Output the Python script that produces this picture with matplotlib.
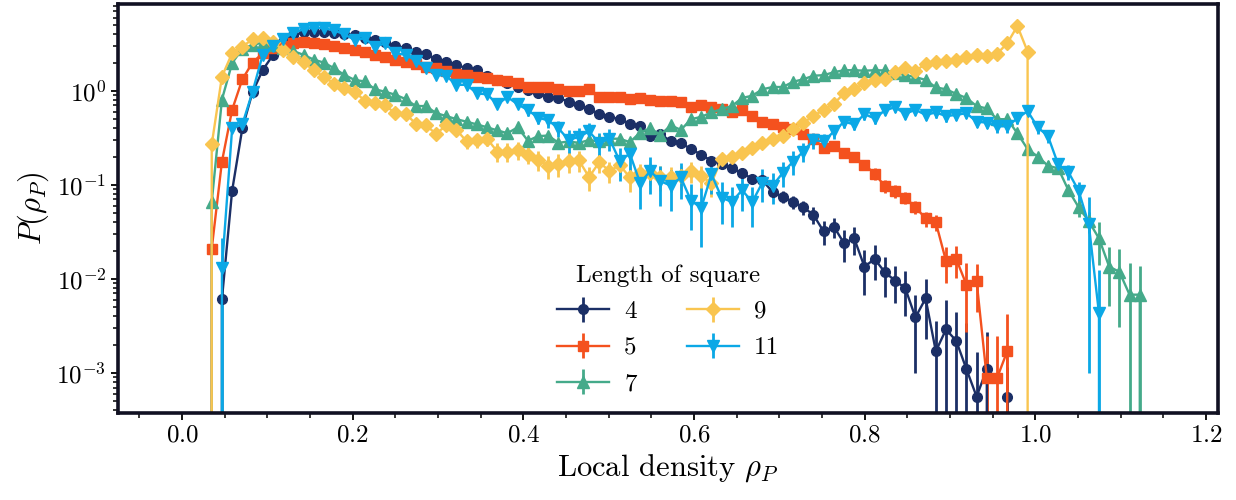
import numpy as np
import matplotlib
matplotlib.use("Agg")
from matplotlib import pyplot as plt
from matplotlib.ticker import MultipleLocator

plt.rcParams["font.family"] = "serif"
plt.rcParams["font.serif"] = ["cmr10"]
plt.rcParams["mathtext.fontset"] = "cm"
plt.rcParams["axes.formatter.use_mathtext"] = True

# histogram bins of the local density (all series share the same bins)
first_bin = 0.0348
bin_width = 0.01195

lengths = ["4", "5", "7", "9", "11"]
colors = ["#1b2f66", "#f4511e", "#45aa8a", "#f9c550", "#0ba8e6"]
markers = ["o", "s", "^", "D", "v"]
msizes = [7, 7, 8, 7.5, 8]

# index of the first bin of every series (zeros at the ends are real empty bins)
start_4 = 0
p_4 = [0, 0.0061, 0.087, 0.40, 0.97, 1.67, 2.4, 3.3, 3.9, 4.2,
       4.27, 4.2, 4.1, 4.0, 3.94, 3.69, 3.49, 3.3, 3.03, 2.84,
       2.62, 2.45, 2.19, 2.05, 1.89, 1.74, 1.67, 1.44, 1.31, 1.21,
       1.09, 1.02, 0.95, 0.87, 0.84, 0.77, 0.71, 0.64, 0.57, 0.53,
       0.50, 0.45, 0.42, 0.33, 0.35, 0.29, 0.28, 0.24, 0.21, 0.18,
       0.168, 0.152, 0.133, 0.117, 0.112, 0.084, 0.075, 0.066, 0.058, 0.048,
       0.032, 0.036, 0.024, 0.027, 0.0135, 0.0163, 0.0118, 0.0096, 0.0080, 0.0039,
       0.0062, 0.0017, 0.0029, 0.0022, 0.0011, 0.00056, 0.0011, 0, 0.00056, 0]
e_4 = [0, 0.0005, 0.003, 0.01, 0.02, 0.03, 0.04, 0.05, 0.05, 0.05,
       0.05, 0.04, 0.04, 0.04, 0.04, 0.04, 0.04, 0.04, 0.04, 0.04,
       0.04, 0.03, 0.03, 0.03, 0.03, 0.03, 0.03, 0.03, 0.03, 0.03,
       0.03, 0.02, 0.02, 0.02, 0.02, 0.02, 0.02, 0.02, 0.02, 0.02,
       0.02, 0.012, 0.012, 0.012, 0.012, 0.012, 0.012, 0.012, 0.012, 0.012,
       0.012, 0.012, 0.012, 0.012, 0.012, 0.012, 0.011, 0.011, 0.010, 0.010,
       0.009, 0.009, 0.009, 0.009, 0.0068, 0.0065, 0.0054, 0.004, 0.004, 0.0029,
       0.0039, 0.0019, 0.003, 0.0022, 0.0023, 0.0011, 0.0016, 0, 0.0006, 0]

start_5 = -1
p_5 = [0, 0.021, 0.177, 0.63, 1.33, 2.0, 2.52, 2.85, 3.0, 3.25,
       3.34, 3.25, 3.16, 3.0, 2.87, 2.73, 2.58, 2.42, 2.32, 2.14,
       2.05, 1.92, 1.81, 1.74, 1.64, 1.52, 1.48, 1.42, 1.36, 1.31,
       1.26, 1.22, 1.09, 1.09, 1.09, 1.04, 1.0, 1.0, 1.04, 0.86,
       0.86, 0.86, 0.82, 0.84, 0.80, 0.79, 0.78, 0.77, 0.68, 0.70,
       0.67, 0.64, 0.59, 0.62, 0.54, 0.47, 0.45, 0.41, 0.39, 0.35,
       0.31, 0.25, 0.257, 0.217, 0.198, 0.164, 0.132, 0.097, 0.086, 0.073,
       0.058, 0.044, 0.040, 0.0155, 0.0163, 0.0087, 0.0095, 0.00088, 0.00088, 0.0017,
       0]
e_5 = [0, 0.002, 0.005, 0.01, 0.02, 0.03, 0.03, 0.03, 0.03, 0.03,
       0.03, 0.03, 0.03, 0.03, 0.03, 0.03, 0.03, 0.02, 0.02, 0.02,
       0.02, 0.02, 0.02, 0.02, 0.02, 0.02, 0.02, 0.02, 0.02, 0.02,
       0.02, 0.02, 0.02, 0.02, 0.02, 0.02, 0.02, 0.02, 0.02, 0.02,
       0.02, 0.02, 0.02, 0.02, 0.02, 0.02, 0.02, 0.02, 0.02, 0.02,
       0.02, 0.02, 0.02, 0.02, 0.02, 0.02, 0.02, 0.02, 0.02, 0.02,
       0.02, 0.02, 0.02, 0.02, 0.02, 0.02, 0.018, 0.015, 0.013, 0.011,
       0.009, 0.008, 0.008, 0.0065, 0.006, 0.006, 0.005, 0.0016, 0.0016, 0.0025,
       0]

start_7 = -1
p_7 = [0, 0.066, 0.81, 1.98, 2.8, 3.1, 3.25, 3.1, 2.85, 2.65,
       2.42, 2.15, 2.0, 1.74, 1.48, 1.31, 1.26, 1.04, 0.98, 0.91,
       0.82, 0.69, 0.69, 0.58, 0.54, 0.50, 0.47, 0.44, 0.41, 0.38,
       0.355, 0.41, 0.295, 0.33, 0.335, 0.28, 0.29, 0.28, 0.30, 0.29,
       0.31, 0.31, 0.285, 0.36, 0.40, 0.34, 0.43, 0.385, 0.50, 0.53,
       0.59, 0.64, 0.69, 0.84, 0.89, 1.04, 1.10, 1.10, 1.25, 1.33,
       1.45, 1.47, 1.58, 1.66, 1.66, 1.64, 1.66, 1.65, 1.55, 1.48,
       1.40, 1.31, 1.09, 1.04, 0.93, 0.84, 0.69, 0.65, 0.50, 0.50,
       0.355, 0.24, 0.20, 0.16, 0.15, 0.088, 0.058, 0.041, 0.027, 0.0135,
       0.0119, 0.0068, 0.0068, 0]
e_7 = [0, 0.004, 0.02, 0.03, 0.03, 0.03, 0.03, 0.03, 0.03, 0.03,
       0.03, 0.03, 0.03, 0.03, 0.02, 0.02, 0.02, 0.02, 0.02, 0.02,
       0.02, 0.02, 0.02, 0.02, 0.02, 0.02, 0.02, 0.02, 0.02, 0.02,
       0.02, 0.02, 0.02, 0.02, 0.02, 0.02, 0.02, 0.02, 0.02, 0.02,
       0.02, 0.02, 0.02, 0.02, 0.02, 0.02, 0.02, 0.02, 0.02, 0.02,
       0.02, 0.02, 0.02, 0.03, 0.03, 0.03, 0.03, 0.03, 0.03, 0.03,
       0.03, 0.03, 0.03, 0.03, 0.03, 0.03, 0.03, 0.03, 0.03, 0.03,
       0.03, 0.03, 0.03, 0.03, 0.03, 0.03, 0.03, 0.03, 0.03, 0.03,
       0.03, 0.025, 0.02, 0.02, 0.02, 0.012, 0.012, 0.01, 0.013, 0.0084,
       0.0088, 0.0079, 0.0068, 0]

start_9 = -1
p_9 = [0, 0.27, 1.42, 2.52, 2.95, 3.55, 3.63, 3.35, 2.69, 2.3,
       2.03, 1.65, 1.42, 1.19, 1.08, 0.98, 0.79, 0.74, 0.70, 0.58,
       0.57, 0.45, 0.43, 0.35, 0.43, 0.385, 0.29, 0.30, 0.31, 0.226,
       0.226, 0.236, 0.21, 0.185, 0.16, 0.167, 0.178, 0.183, 0.121, 0.175,
       0.14, 0.163, 0.12, 0.133, 0.134, 0.122, 0.12, 0.124, 0.14, 0.123,
       0.105, 0.19, 0.20, 0.22, 0.245, 0.28, 0.31, 0.335, 0.39, 0.46,
       0.54, 0.63, 0.73, 0.94, 1.04, 1.21, 1.32, 1.34, 1.57, 1.74,
       1.63, 1.94, 2.05, 2.08, 2.14, 2.32, 2.42, 2.37, 2.48, 3.2,
       4.9, 2.62, 0]
e_9 = [0, 0.01, 0.03, 0.04, 0.04, 0.04, 0.04, 0.04, 0.04, 0.04,
       0.04, 0.04, 0.04, 0.04, 0.04, 0.04, 0.05, 0.05, 0.05, 0.05,
       0.05, 0.05, 0.05, 0.05, 0.05, 0.05, 0.05, 0.05, 0.05, 0.05,
       0.05, 0.05, 0.045, 0.045, 0.045, 0.045, 0.045, 0.045, 0.035, 0.04,
       0.035, 0.04, 0.035, 0.035, 0.035, 0.035, 0.035, 0.035, 0.035, 0.035,
       0.03, 0.03, 0.03, 0.03, 0.03, 0.03, 0.03, 0.03, 0.03, 0.03,
       0.03, 0.03, 0.03, 0.04, 0.04, 0.04, 0.04, 0.04, 0.04, 0.04,
       0.04, 0.04, 0.04, 0.04, 0.04, 0.04, 0.04, 0.04, 0.04, 0.05,
       0.06, 0.05, 0]

start_11 = 0
p_11 = [0, 0.013, 0.40, 0.44, 0.98, 2.42, 3.0, 3.6, 4.1, 4.55,
        4.7, 4.65, 4.4, 4.0, 3.49, 3.63, 2.96, 3.2, 2.52, 2.42,
        2.1, 1.74, 1.48, 1.44, 1.16, 1.16, 0.94, 0.92, 0.72, 0.86,
        0.72, 0.625, 0.52, 0.485, 0.40, 0.30, 0.325, 0.37, 0.28, 0.31,
        0.18, 0.215, 0.105, 0.14, 0.11, 0.098, 0.12, 0.068, 0.057, 0.13,
        0.073, 0.066, 0.088, 0.066, 0.106, 0.098, 0.135, 0.177, 0.226, 0.30,
        0.29, 0.37, 0.47, 0.44, 0.565, 0.51, 0.62, 0.67, 0.57, 0.63,
        0.555, 0.59, 0.54, 0.555, 0.58, 0.47, 0.46, 0.42, 0.42, 0.51,
        0.61, 0.41, 0.33, 0.165, 0.137, 0.087, 0.038, 0.0043, 0]
e_11 = [0, 0.014, 0.02, 0.02, 0.03, 0.05, 0.06, 0.07, 0.08, 0.08,
        0.08, 0.08, 0.08, 0.08, 0.08, 0.08, 0.07, 0.07, 0.07, 0.06,
        0.06, 0.06, 0.06, 0.06, 0.06, 0.06, 0.06, 0.06, 0.06, 0.06,
        0.06, 0.08, 0.08, 0.08, 0.08, 0.08, 0.08, 0.09, 0.08, 0.08,
        0.07, 0.08, 0.05, 0.06, 0.05, 0.045, 0.05, 0.035, 0.035, 0.05,
        0.035, 0.03, 0.035, 0.03, 0.04, 0.035, 0.04, 0.05, 0.05, 0.06,
        0.06, 0.06, 0.07, 0.06, 0.07, 0.06, 0.07, 0.07, 0.07, 0.07,
        0.07, 0.07, 0.07, 0.07, 0.07, 0.06, 0.06, 0.06, 0.06, 0.07,
        0.07, 0.06, 0.05, 0.03, 0.025, 0.02, 0.037, 0.008, 0]

series = [(start_4, p_4, e_4), (start_5, p_5, e_5), (start_7, p_7, e_7),
          (start_9, p_9, e_9), (start_11, p_11, e_11)]

fig = plt.figure(figsize=(12.36, 5.0), dpi=100)
ax = fig.add_axes([0.0955, 0.174, 0.89, 0.818])
ax.set_yscale("log")

for (start, p, e), lab, c, m, ms in zip(series, lengths, colors, markers, msizes):
    rho = first_bin + bin_width * (start + np.arange(len(p)))
    ax.errorbar(rho, p, yerr=e, color=c, marker=m, markersize=ms, lw=1.7,
                elinewidth=2.0, capsize=0, label=lab)

ax.set_xlim(-0.075, 1.214)
ax.set_ylim(3.75e-4, 8.4)
ax.xaxis.set_major_locator(MultipleLocator(0.2))
ax.xaxis.set_minor_locator(MultipleLocator(0.05))
ax.tick_params(which="major", direction="out", length=5, width=1.3, labelsize=18)
ax.tick_params(which="minor", direction="out", length=3.5, width=1.1)
for sp in ax.spines.values():
    sp.set_linewidth(2.6)
    sp.set_color("#111122")

ax.set_xlabel(r"Local density $\rho_P$", fontsize=22)
ax.set_ylabel(r"$P(\rho_P)$", fontsize=22)

ax.legend(title="Length of square", ncol=2, frameon=False, fontsize=18,
          title_fontsize=18, handlelength=2.1, columnspacing=2.0,
          handletextpad=0.6, labelspacing=0.55, borderpad=0.2,
          loc="lower center", bbox_to_anchor=(0.5, 0.0))

fig.savefig("out.png", dpi=100)
